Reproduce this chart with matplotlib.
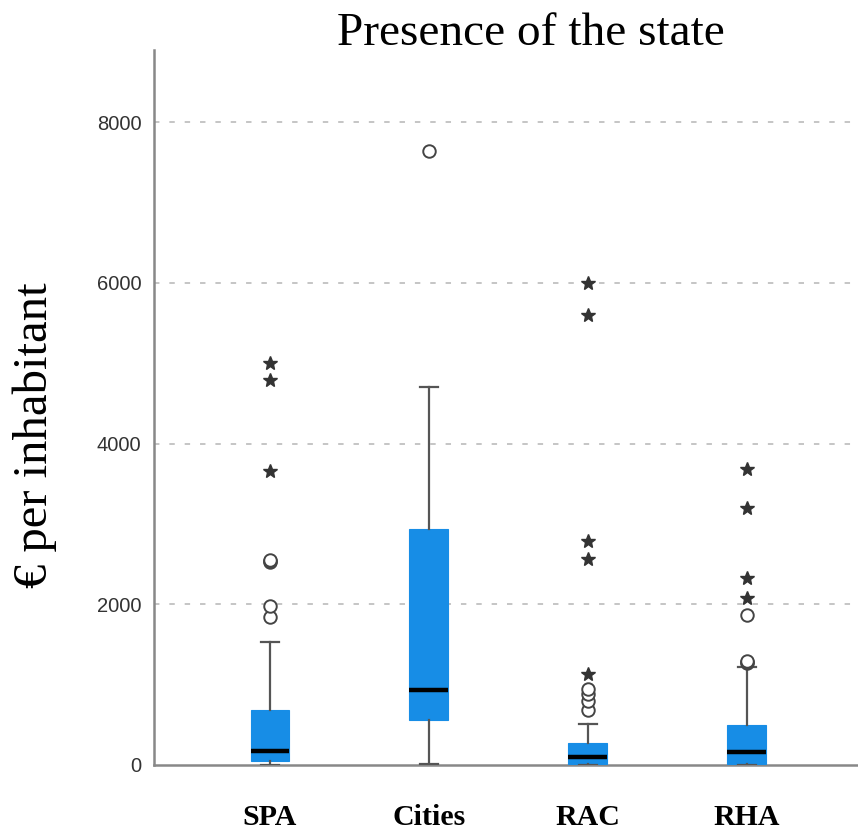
import matplotlib
matplotlib.use("Agg")
import matplotlib.pyplot as plt
import numpy as np

categories = ["SPA", "Cities", "RAC", "RHA"]
whislo = [0, 15, 0, 0]
q1 = [54, 566, 10, 10]
med = [176, 933, 104, 162]
q3 = [684, 2940, 274, 497]
whishi = [1530, 4706, 510, 1220]
circle_outliers = [
    [1840, 1980, 2530, 2540, 2550],
    [7640],
    [688, 800, 883, 945],
    [1265, 1280, 1295, 1866],
]
star_outliers = [
    [3660, 4790, 5000],
    [],
    [1130, 2570, 2790, 5597, 5995],
    [2073, 2322, 3205, 3690],
]
yticks = [0, 2000, 4000, 6000, 8000]

box_color = "#178DE6"

fig = plt.figure(figsize=(8.58, 8.34), dpi=100)
ax = fig.add_axes([154 / 858, (834 - 765) / 834, (858 - 154) / 858, (765 - 50) / 834])

stats = []
for i, c in enumerate(categories):
    stats.append(dict(label=c, whislo=whislo[i], q1=q1[i], med=med[i],
                      q3=q3[i], whishi=whishi[i], fliers=[]))
positions = np.arange(1, len(categories) + 1)
ax.bxp(stats, positions=positions, widths=0.245, patch_artist=True,
       showfliers=False,
       boxprops=dict(facecolor=box_color, edgecolor=box_color, linewidth=0.8),
       medianprops=dict(color="black", linewidth=3.2, solid_capstyle="butt"),
       whiskerprops=dict(color="#555555", linewidth=1.6),
       capprops=dict(color="#555555", linewidth=1.6),
       capwidths=0.115, zorder=3)

for i, p in enumerate(positions):
    if circle_outliers[i]:
        ax.plot([p] * len(circle_outliers[i]), circle_outliers[i], linestyle="none",
                marker="o", markersize=9, markerfacecolor="white",
                markeredgecolor="#444444", markeredgewidth=1.4, zorder=4)
    if star_outliers[i]:
        ax.plot([p] * len(star_outliers[i]), star_outliers[i], linestyle="none",
                marker="*", markersize=10, color="#333333", zorder=4)

ax.set_xlim(0.27, 4.70)
ax.set_ylim(0, 8900)
ax.set_yticks(yticks)
ax.set_yticklabels([str(v) for v in yticks], fontsize=14.5, color="#333333",
                   family="Liberation Sans")
ax.set_xticks(positions)
ax.set_xticklabels(categories, fontsize=21.5, fontweight="bold", family="Liberation Serif")
ax.tick_params(axis="both", length=0)
ax.tick_params(axis="x", pad=28)
ax.tick_params(axis="y", pad=9)

for v in yticks[1:]:
    ax.axhline(v, color="#c0c0c0", linewidth=1.3, linestyle=(0, (3, 5.5)), zorder=1)

for s in ["top", "right"]:
    ax.spines[s].set_visible(False)
for s in ["left", "bottom"]:
    ax.spines[s].set_color("#888888")
    ax.spines[s].set_linewidth(1.8)

fig.text(531 / 858, 1 - 45 / 834, "Presence of the state", ha="center", va="baseline",
         fontsize=34, family="Liberation Serif")
fig.text(35 / 858, 1 - 435 / 834, "€ per inhabitant", ha="center", va="center",
         rotation=90, fontsize=35, family="Liberation Serif")

fig.savefig("out.png", dpi=100)
